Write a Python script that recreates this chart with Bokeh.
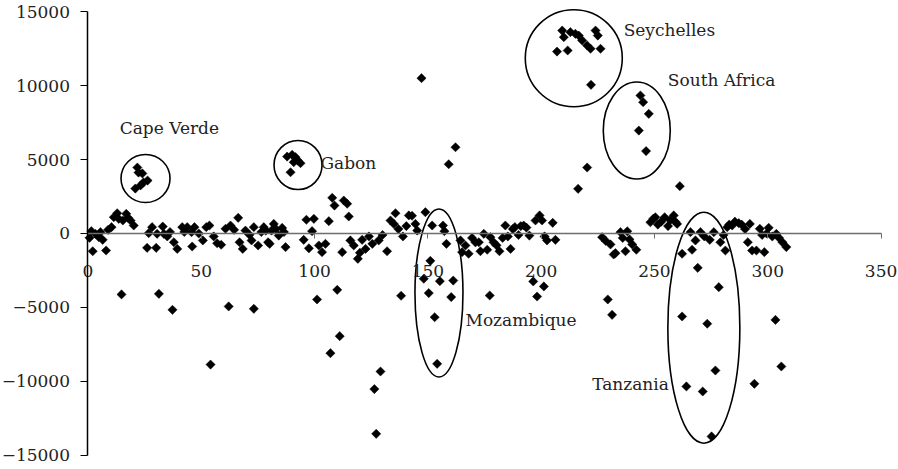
import math
from bokeh.plotting import figure
from bokeh.models import Range1d, LinearAxis, FixedTicker, ColumnDataSource
from bokeh.core.properties import value
from bokeh.embed import file_html
from bokeh.resources import INLINE

# ---- data (x = index, y = value) ----
band_x = [0.7, 1.5, 2.1, 3.3, 4.8, 5.5, 6.5, 8, 8.9, 10.4, 11.4, 12.9, 13.6, 14.8, 15.4, 16.9, 17.7, 18.8, 20.2,
          26.1, 26.8, 28.3, 30.1, 30.5, 31.3, 33, 33.5, 35, 36.2, 37.3, 37.9, 39.4, 41.6, 42.5, 43.8, 45.7, 46, 47,
          48.9, 50.7, 52.2, 53.6, 54.1, 55.5, 57, 58.8, 60.7, 62.1, 62.9, 64.5, 66.3, 66.9, 68.3, 69.5, 71.3, 72.2,
          73.2, 73.2, 75.1, 76.5, 77.6, 78.5, 79.5, 80.2, 81, 82, 83, 84.2, 85.7, 86.5, 87.2,
          95.2, 96.4, 97.5, 98.9, 99.7, 101.1, 101.9, 103.3, 104.8, 106.3, 107, 107.8, 108.8, 110, 111.1, 112.2,
          112.9, 114.4, 115.1, 115.8, 117.3, 119.1, 120, 121, 122.5, 124, 125.5, 126.4, 127.2, 128.3, 129.1, 130,
          132, 133.5, 135, 135.7, 137, 138.2, 139, 140.5, 141.6, 143, 144.5, 145.3, 147.2, 148.2, 148.9, 150.4,
          151.1, 151.9, 153, 154.1, 155.3, 156.7, 157.3, 158.2, 159.2, 160.3, 161.2, 162.2, 164.4, 165.1, 166.6,
          168, 169.5, 171, 172.5, 173.2, 174.7, 176.2, 177.3, 177.6, 179, 180.3, 181.6, 183, 184.2, 185.3, 186.5,
          187.5, 188.4, 190, 191, 192.3, 193.5, 194.8, 196.5, 197.5, 198.2, 199.3, 200.4, 201.2, 201.5, 202.6,
          205.1, 206.3, 216.3, 220.3, 222,
          226.9, 228.5, 229.4, 230.6, 231.3, 232, 232.8, 235, 236, 237.2, 238, 239, 240.2, 242,
          248.2, 249.5, 250.4, 251.5, 253, 254.5, 256, 257, 258.5, 259.2, 260, 261.2,
          262.2, 262.2, 264.1, 265.9, 266.6, 268.1, 269.1, 270.3, 271.3, 272, 273.3, 274.4, 275.2, 276.2, 276.9,
          278.4, 279.1, 280.5, 281.3, 282.1, 283, 284.3, 285.5, 287.2, 288.5, 290, 291.2, 292.1, 293.1, 294.1,
          295, 296.5, 297.5, 298.5, 299.5, 300.4, 302, 303.4, 303.8, 305, 306, 306.5, 308.2]
band_y = [-290, 160, -1200, -20, -250, 90, -430, -1150, 250, 430, 1100, 1370, 990, -4120, 880, 1330, 1060, 880, 540,
          -970, 20, 430, -970, -20, -4080, 470, -20, -200, 100, -5160, -590, -1040, 430, 100, 430, 90, -880, 430,
          0, -470, 430, 540, -8860, -200, -660, -760, 320, -4930, 540, 250, 1060, -590, -1040, 200, -90, -470,
          430, -5090, -810, 100, 430, 200, -590, -700, 200, 650, 300, -140, 380, 100, -920,
          -430, 930, -1000, 160, 990, -4460, -810, -1260, -700, 830, -8090, 2410, 1890, -3810, -6940, -1260,
          2230, 2010, 1150, -470, -810, -1710, -1300, -430, -1040, -200, -700, -10520, -13540, -470, -9330, -100,
          -1200, 880, 650, 1370, 300, -4210, -200, 500, 1220, 1200, 650, 200, 10500, -3060, 1440, -4030,
          -1850, 540, -5660, -8810, -3220, 540, 160, -700, 4680, -4300, -3180, 5830, -470, -1260, -810,
          -1370, -300, -600, -590, -1200, -20, -1100, -4190, -250, -600, -800, -1200, -300, 540, -200, -1040,
          300, 430, -100, 500, 540, 400, -140, -3240, 880, -4260, 1220, 880, -3580, -200, -470,
          720, -430, 3020, 4460, 10050,
          -250, -500, -4460, -740, -5500, -1420, -1330, 90, -300, -1200, 150, -400, -740, -1100,
          760, 1000, 1100, 600, 800, 1100, 500, 900, 1220, 800, 650, 3200,
          -1370, -5610, -10340, 90, -1100, -470, -2320, 90, -10680, -200, -6100, -430, -13720, 90, -9260,
          -3630, -590, -100, -1150, 430, 600, 540, 800, 700, 600, 300, -590, 650, -1150, -10160,
          -1150, 320, -100, -1260, 0, 385, -200, -5840, -20, -300, -8990, -600, -920]

cape_verde_x = [20.9, 21.8, 22.3, 23.2, 24.0, 24.5, 26.3]
cape_verde_y = [3040, 4460, 4120, 3250, 4060, 3450, 3580]
gabon_x = [87.9, 89.4, 90.1, 90.8, 91.6, 92.6, 93.8]
gabon_y = [5200, 4140, 5320, 4820, 5160, 4930, 4750]
seychelles_x = [207, 209.3, 210, 211.7, 212.9, 215.1, 216.6, 218.1, 220.3, 221.8, 224, 225, 226.2]
seychelles_y = [12300, 13720, 13270, 12370, 13610, 13500, 13380, 13050, 12710, 12490, 13720, 13380, 12490]
south_africa_x = [243.1, 243.8, 245.0, 246.3, 247.5]
south_africa_y = [6960, 9330, 8880, 5570, 8090]

x_axis_bounds = (0, 350)
y_axis_bounds = (-15000, 15000)
xticks = [0, 50, 100, 150, 200, 250, 300, 350]
yticks = [-15000, -10000, -5000, 0, 5000, 10000, 15000]

# annotation: country labels and ellipses
labels = ["Cape Verde", "Gabon", "Seychelles", "South Africa", "Mozambique", "Tanzania"]
label_x = [14.0, 102.6, 236.4, 255.9, 166.6, 222.5]
label_y = [7118, 4732, 13770, 10390, -5834, -10160]
ell_x = [25.4, 92.7, 214.4, 242.2, 154.9, 271.8]
ell_y = [3718, 4631, 11850, 6963, -4022, -6368]
ell_w = [49, 48, 97, 67, 48, 72]      # screen px
ell_h = [48, 49, 97, 97, 168, 231]    # screen px

all_x = band_x + cape_verde_x + gabon_x + seychelles_x + south_africa_x
all_y = band_y + cape_verde_y + gabon_y + seychelles_y + south_africa_y

FONT = "DejaVu Serif"

# the plotting frame covers the whole canvas; both axes sit at fixed positions inside it
p = figure(width=898, height=469, output_backend="svg", toolbar_location=None,
           x_range=Range1d(-38.6, 357.7), y_range=Range1d(-15954, 15751),
           min_border=0, min_border_left=0, min_border_right=0, min_border_top=0, min_border_bottom=0,
           x_axis_location=None, y_axis_location=None)
p.outline_line_color = None
p.xgrid.visible = False
p.ygrid.visible = False
p.background_fill_color = "white"
p.border_fill_color = "white"

yax = LinearAxis(ticker=FixedTicker(ticks=yticks), fixed_location=0, bounds=y_axis_bounds)
yax.axis_line_color = "black"
yax.axis_line_width = 1.5
yax.major_tick_line_color = "black"
yax.major_tick_out = 7
yax.major_tick_in = 0
yax.minor_tick_line_color = None
yax.major_label_standoff = 11
yax.major_label_text_font = FONT
yax.major_label_text_font_size = "17px"
yax.major_label_text_color = "#222222"
p.add_layout(yax, "left")

xax = LinearAxis(ticker=FixedTicker(ticks=xticks), fixed_location=0, bounds=x_axis_bounds)
xax.axis_line_color = "#6e6e6e"
xax.axis_line_width = 1.5
xax.major_tick_line_color = "#6e6e6e"
xax.major_tick_out = 5
xax.major_tick_in = 0
xax.minor_tick_line_color = None
xax.major_label_standoff = 27
xax.major_label_text_font = FONT
xax.major_label_text_font_size = "17px"
xax.major_label_text_color = "#222222"
p.add_layout(xax, "below")

src = ColumnDataSource(dict(x=all_x, y=all_y))
p.scatter("x", "y", source=src, marker="square", size=6.5, angle=math.pi / 4,
          fill_color="black", line_color="black", line_width=0.5)

esrc = ColumnDataSource(dict(x=ell_x, y=ell_y, w=ell_w, h=ell_h))
p.ellipse(x="x", y="y", width="w", height="h", source=esrc,
          width_units="screen", height_units="screen",
          fill_color=None, line_color="black", line_width=1.6)

tsrc = ColumnDataSource(dict(x=label_x, y=label_y, t=labels))
p.text(x="x", y="y", text="t", source=tsrc, text_font=value(FONT), text_font_size="17px",
       text_align="left", text_baseline="middle", text_color="#222222")

open("out.html", "w").write(file_html(p, INLINE))
